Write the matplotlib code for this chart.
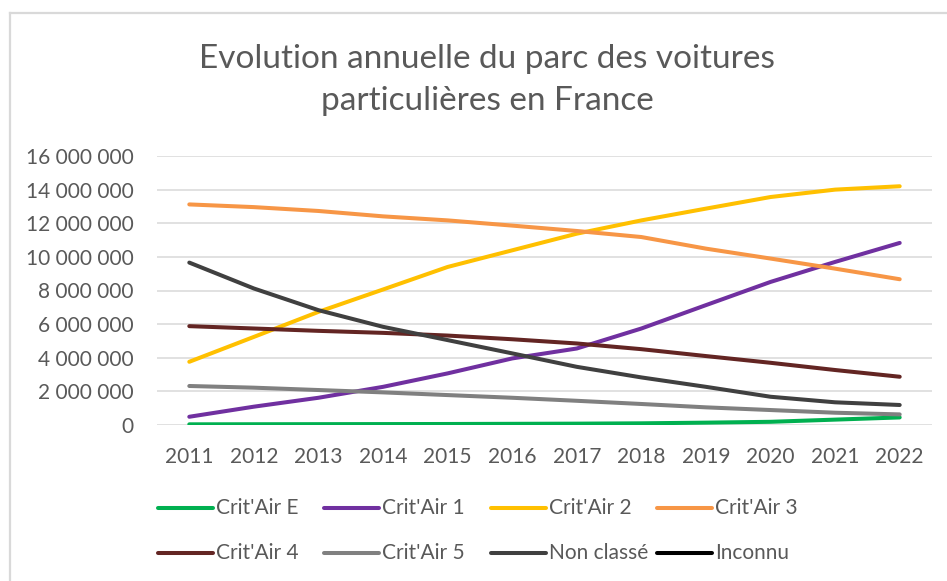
import numpy as np
import matplotlib
matplotlib.use("Agg")
import matplotlib.pyplot as plt
from matplotlib.lines import Line2D
from matplotlib.ticker import FuncFormatter, MultipleLocator

plt.rcParams['font.family'] = ['Lato', 'DejaVu Sans']

years = [2011, 2012, 2013, 2014, 2015, 2016, 2017, 2018, 2019, 2020, 2021, 2022]

crit_e = [40000, 45000, 50000, 55000, 60000, 70000, 80000, 100000, 140000, 190000, 320000, 450000]
crit_1 = [490000, 1090000, 1620000, 2270000, 3070000, 3960000, 4550000, 5740000, 7130000, 8510000, 9700000, 10830000]
crit_2 = [3760000, 5240000, 6730000, 8060000, 9400000, 10390000, 11380000, 12170000, 12870000, 13560000, 14000000, 14200000]
crit_3 = [13120000, 12960000, 12730000, 12410000, 12170000, 11860000, 11540000, 11180000, 10490000, 9900000, 9300000, 8670000]
crit_4 = [5880000, 5740000, 5600000, 5480000, 5320000, 5100000, 4850000, 4510000, 4100000, 3700000, 3270000, 2870000]
crit_5 = [2320000, 2220000, 2080000, 1940000, 1780000, 1620000, 1440000, 1250000, 1050000, 890000, 730000, 630000]
non_classe = [9660000, 8120000, 6830000, 5840000, 5050000, 4260000, 3460000, 2830000, 2270000, 1680000, 1350000, 1190000]
inconnu = [None, None, None, None, None, None, None, None, None, None, None, None]

series_names = ["Crit'Air E", "Crit'Air 1", "Crit'Air 2", "Crit'Air 3",
                "Crit'Air 4", "Crit'Air 5", "Non classé", "Inconnu"]
series_values = [crit_e, crit_1, crit_2, crit_3, crit_4, crit_5, non_classe, inconnu]
series_colors = ["#00B050", "#7030A0", "#FFC000", "#F79646",
                 "#632523", "#808080", "#404040", "#000000"]

title = "Evolution annuelle du parc des voitures\nparticulières en France"

W, H = 947, 581
fig = plt.figure(figsize=(W / 100, H / 100), dpi=100)

def fx(px):
    return px / W

def fy(py):
    return 1 - py / H

# chart border (top and left visible)
fig.add_artist(Line2D([fx(9.5), 1.0], [fy(13), fy(13)], color="#D9D9D9", lw=1.6))
fig.add_artist(Line2D([fx(9.5), fx(9.5)], [fy(13), 0.0], color="#D9D9D9", lw=1.6))

ax = fig.add_axes([fx(157), fy(425), fx(932) - fx(157), fy(156) - fy(425)])
text_color = "#595959"

x = np.arange(len(years))
for name, vals, col in zip(series_names, series_values, series_colors):
    v = np.array([np.nan if a is None else a for a in vals], dtype=float)
    ax.plot(x, v, color=col, lw=2.9, solid_capstyle='round', solid_joinstyle='round', label=name, zorder=3)

ax.set_xlim(-0.5, len(years) - 0.5)
ax.set_ylim(0, 16000000)
ax.yaxis.set_major_locator(MultipleLocator(2000000))
ax.yaxis.set_major_formatter(FuncFormatter(lambda v, p: f"{int(round(v)):,}".replace(",", " ")))
ax.set_xticks(x)
ax.set_xticklabels([str(y) for y in years])
ax.grid(axis='y', color="#D9D9D9", lw=1.1, zorder=0)
ax.set_axisbelow(True)
for s in ax.spines.values():
    s.set_visible(False)
ax.tick_params(axis='both', length=0, labelsize=15, colors=text_color)
ax.tick_params(axis='y', pad=17)
ax.tick_params(axis='x', pad=16)

fig.text(fx(487), fy(79.5), title, ha='center', va='center', fontsize=24,
         color=text_color, linespacing=1.5)

# legend (Excel-like uniform layout)
col_x = [158, 324, 491, 657]
row_y = [508, 553]
for i, (name, col) in enumerate(zip(series_names, series_colors)):
    r, c = divmod(i, 4)
    x0 = col_x[c]
    y0 = row_y[r]
    fig.add_artist(Line2D([fx(x0), fx(x0 + 55)], [fy(y0), fy(y0)], color=col, lw=2.9,
                          solid_capstyle='round'))
    fig.text(fx(x0 + 58), fy(y0), name, ha='left', va='center', fontsize=15, color=text_color)

fig.savefig("out.png", dpi=100)
